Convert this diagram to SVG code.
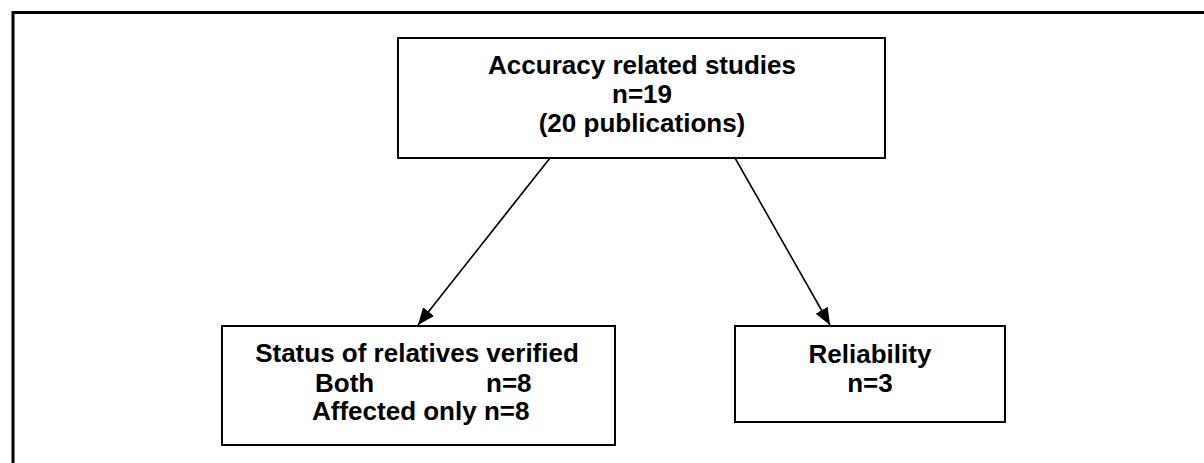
<svg xmlns="http://www.w3.org/2000/svg" width="1204" height="463" viewBox="0 0 1204 463">
  <style>
    .frame { fill: none; stroke: #000; stroke-width: 3; }
    .box { fill: #fff; stroke: #000; stroke-width: 2; }
    .lbl { font-family: "Liberation Sans", Arial, sans-serif; font-weight: bold; font-size: 26px; fill: #000; }
    .mid { text-anchor: middle; }
    .edge { fill: none; stroke: #000; stroke-width: 1.6; }
  </style>
  <defs>
    <marker id="arrow" markerUnits="userSpaceOnUse" markerWidth="18" markerHeight="14" refX="17" refY="7" orient="auto">
      <path d="M0,0 L17,7 L0,14 Z" fill="#000"/>
    </marker>
  </defs>

  <rect x="0" y="0" width="1204" height="463" fill="#fff"/>

  <!-- outer frame, open to the right and bottom -->
  <path class="frame" d="M13,463 L13,12.5 L1204,12.5"/>

  <!-- connectors -->
  <g id="connectors">
    <line class="edge" x1="550" y1="158" x2="418" y2="325" marker-end="url(#arrow)"/>
    <line class="edge" x1="735" y1="158" x2="830" y2="325" marker-end="url(#arrow)"/>
  </g>

  <g id="node-accuracy">
    <rect class="box" x="398" y="38" width="487" height="120"/>
    <text class="lbl mid" x="642" y="74">Accuracy related studies</text>
    <text class="lbl mid" x="642" y="103">n=19</text>
    <text class="lbl mid" x="642" y="132">(20 publications)</text>
  </g>

  <g id="node-status">
    <rect class="box" x="222" y="326" width="393" height="119"/>
    <text class="lbl mid" x="417" y="362">Status of relatives verified</text>
    <text class="lbl" x="315" y="392">Both</text>
    <text class="lbl" x="486" y="392">n=8</text>
    <text class="lbl" x="312" y="420">Affected only n=8</text>
  </g>

  <g id="node-reliability">
    <rect class="box" x="735" y="326" width="270" height="96"/>
    <text class="lbl mid" x="870" y="363">Reliability</text>
    <text class="lbl mid" x="870" y="392">n=3</text>
  </g>
</svg>
